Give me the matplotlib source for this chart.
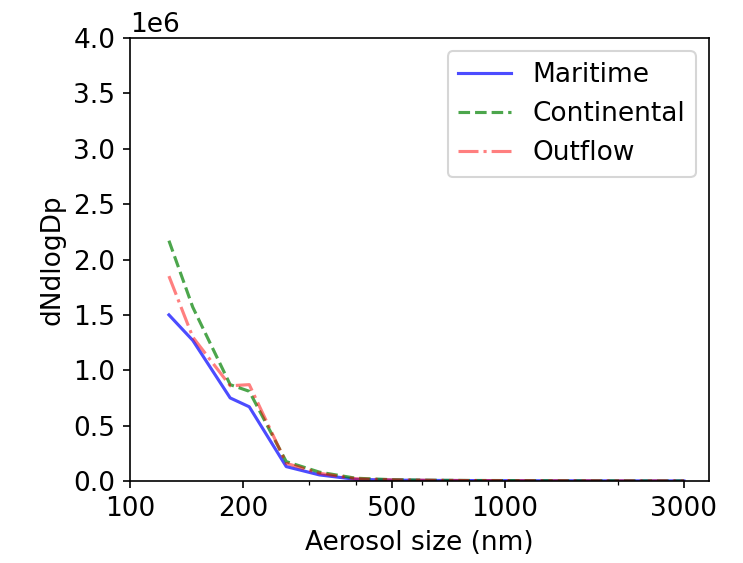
import numpy as np
import matplotlib
matplotlib.use("Agg")
import matplotlib.pyplot as plt
from matplotlib.ticker import ScalarFormatter, NullFormatter

# aerosol size bins (nm) and number size distributions
sizes = [127, 147, 185, 208, 261, 320, 400, 500, 650, 800, 1000, 1300, 1600, 2000, 2500, 3000]
maritime = [1.50e6, 1.27e6, 0.75e6, 0.67e6, 0.13e6, 0.055e6, 0.015e6, 0.008e6, 0.005e6,
            0.004e6, 0.003e6, 0.002e6, 0.002e6, 0.001e6, 0.001e6, 0.001e6]
continental = [2.17e6, 1.57e6, 0.87e6, 0.81e6, 0.175e6, 0.08e6, 0.025e6, 0.012e6, 0.007e6,
               0.005e6, 0.004e6, 0.003e6, 0.002e6, 0.002e6, 0.001e6, 0.001e6]
outflow = [1.85e6, 1.30e6, 0.86e6, 0.87e6, 0.16e6, 0.07e6, 0.02e6, 0.01e6, 0.006e6,
           0.004e6, 0.003e6, 0.002e6, 0.002e6, 0.001e6, 0.001e6, 0.001e6]
xticks = [100, 200, 500, 1000, 3000]

plt.rcParams['font.size'] = 12.7
dpi = 150
fig = plt.figure(figsize=(743 / dpi, 563 / dpi), dpi=dpi)
ax = fig.add_axes([130 / 743, 1 - 481 / 563, (709 - 130) / 743, (481 - 38) / 563])

ax.plot(sizes, maritime, 'b-', alpha=0.7, label='Maritime')
ax.plot(sizes, continental, 'g--', alpha=0.7, label='Continental')
ax.plot(sizes, outflow, 'r-.', alpha=0.5, label='Outflow')

ax.set_xscale('log')
ax.set_xlim(100, 3500)
ax.set_ylim(0, 4e6)
ax.set_xticks(xticks)
ax.xaxis.set_major_formatter(ScalarFormatter())
ax.xaxis.set_minor_formatter(NullFormatter())
ax.set_xlabel('Aerosol size (nm)')
ax.set_ylabel('dNdlogDp')
ax.legend(loc='upper right')

fig.savefig('out.png', dpi=dpi)
